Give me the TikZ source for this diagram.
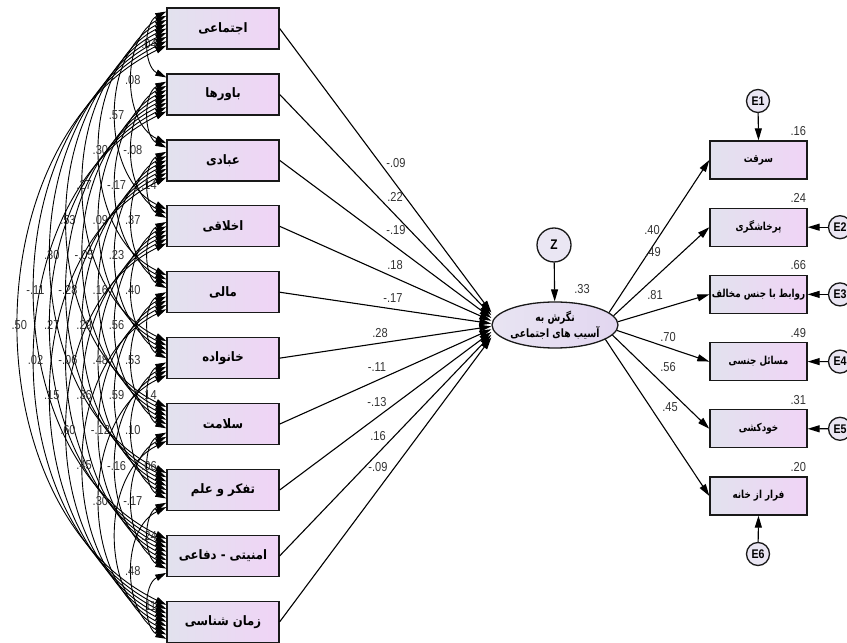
\documentclass[tikz,border=0pt]{standalone}
\usepackage{fontspec}
\usetikzlibrary{arrows.meta,shapes.geometric,calc}
\TeXXeTstate=1
\newfontfamily\arb[Script=Arabic,FakeStretch=0.9]{DejaVu Sans}
\newfontfamily\arbn[Script=Arabic,FakeStretch=0.8]{DejaVu Sans}
\newfontfamily\numf[FakeStretch=0.85]{Liberation Sans}
\definecolor{boxL}{RGB}{226,226,238}
\definecolor{boxR}{RGB}{240,212,246}
\definecolor{ellL}{RGB}{232,228,242}
\definecolor{ellR}{RGB}{226,214,240}
\definecolor{circf}{RGB}{234,230,243}
\newcommand\setcv[3]{\expandafter\def\csname cv#1-#2\endcsname{#3}}
\setcv{1}{2}{.04}\setcv{1}{3}{.08}\setcv{1}{4}{.57}\setcv{1}{5}{.30}\setcv{1}{6}{.27}
\setcv{1}{7}{.53}\setcv{1}{8}{.30}\setcv{1}{9}{-.11}\setcv{1}{10}{.50}
\setcv{2}{4}{-.08}\setcv{2}{5}{-.17}\setcv{2}{6}{.09}\setcv{2}{7}{-.05}\setcv{2}{8}{-.28}
\setcv{2}{9}{.27}\setcv{2}{10}{.02}
\setcv{3}{4}{.14}\setcv{3}{5}{.37}\setcv{3}{6}{.23}\setcv{3}{7}{.16}\setcv{3}{8}{.29}
\setcv{3}{9}{-.06}\setcv{3}{10}{.15}
\setcv{4}{6}{.40}\setcv{4}{7}{.56}\setcv{4}{8}{.48}\setcv{4}{9}{.36}\setcv{4}{10}{.60}
\setcv{5}{7}{.53}\setcv{5}{8}{.59}\setcv{5}{9}{-.12}\setcv{5}{10}{.45}
\setcv{6}{7}{.14}\setcv{6}{8}{.10}\setcv{6}{9}{-.16}\setcv{6}{10}{.30}
\setcv{7}{8}{.06}\setcv{7}{9}{-.17}
\setcv{8}{9}{.24}\setcv{8}{10}{.48}
\setcv{9}{10}{.11}
\begin{document}
\begin{tikzpicture}[x=1pt,y=1pt,
  lbox/.style={draw=black!90, line width=1.3pt, minimum width=112pt, minimum height=41pt,
    left color=boxL, right color=boxR, inner sep=0pt, font=\arb\bfseries\fontsize{13}{15}\selectfont},
  rbox/.style={lbox, minimum width=97pt, minimum height=38pt, font=\arbn\bfseries\fontsize{11}{13}\selectfont},
  lat/.style={ellipse, draw=black!90, line width=1.3pt, minimum width=124pt, minimum height=46pt,
    inner sep=0pt, left color=ellL, right color=ellR, align=center,
    font=\arbn\bfseries\fontsize{11.5}{13}\selectfont},
  err/.style={circle, draw=black!90, line width=1.3pt, fill=circf, inner sep=0pt,
    minimum size=23pt, font=\numf\bfseries\fontsize{12.5}{13}\selectfont},
  num/.style={font=\numf\fontsize{13}{14}\selectfont, inner sep=0.5pt, text=black!80},
  covlab/.style={num},
  pth/.style={line width=1.1pt, -{Triangle[length=12pt,width=7pt]}},
  cov/.style={line width=0.9pt, {Triangle[length=11pt,width=6.5pt]}-{Triangle[length=11pt,width=6.5pt]}}
]
\useasboundingbox (0,0) rectangle (847,643);
\fill[white] (0,0) rectangle (847,643);

% left exogenous boxes
\foreach \i/\t in {1/اجتماعی, 2/باورها, 3/عبادی, 4/اخلاقی, 5/مالی, 6/خانواده,
                   7/سلامت, 8/تفکر و علم, 9/امنیتی - دفاعی, 10/زمان شناسی}{
  \pgfmathsetmacro\yy{614.5-65.93*(\i-1)}
  \node[lbox] (L\i) at (223,\yy) {\beginR\t\endR};
}

% latent variable
\node[lat] (ell) at (555,318) {\beginR نگرش به\endR\\[1pt]\beginR آسیب های اجتماعی\endR};
\node[err, minimum size=34pt, font=\numf\bfseries\fontsize{14}{14}\selectfont] (Z) at (554,398) {Z};
\draw[pth] (Z) -- (ell);
\node[num] (r0) at (582,354) {.33};

% right indicator boxes
\foreach \i/\t in {1/سرقت, 2/پرخاشگری, 3/روابط با جنس مخالف, 4/مسائل جنسی, 5/خودکشی, 6/فرار از خانه}{
  \pgfmathsetmacro\yy{483-67.2*(\i-1)}
  \node[rbox] (R\i) at (758.5,\yy) {\beginR\t\endR};
}
\foreach \i/\v in {1/.16, 2/.24, 3/.66, 4/.49, 5/.31, 6/.20}{
  \node[num, anchor=south east] (rs\i) at ([xshift=-1pt,yshift=4pt]R\i.north east) {\v};
}

% error terms
\node[err] (E1) at (758,542) {E1};
\node[err] (E2) at (840,415.8) {E2};
\node[err] (E3) at (840,348.6) {E3};
\node[err] (E4) at (840,281.4) {E4};
\node[err] (E5) at (840,214.2) {E5};
\node[err] (E6) at (758,89) {E6};
\draw[pth] (E1) -- (R1.north);
\draw[pth] (E2) -- (R2.east);
\draw[pth] (E3) -- (R3.east);
\draw[pth] (E4) -- (R4.east);
\draw[pth] (E5) -- (R5.east);
\draw[pth] (E6) -- (R6.south);

% loadings
\foreach \i/\a in {1/13, 2/9, 3/3, 4/-5, 5/-10, 6/-16}{
  \draw[pth] (ell.\a) -- (R\i.west);
}
\node[num] (lo1) at (652,413) {.40};
\node[num] (lo2) at (653,391) {.49};
\node[num] (lo3) at (655,348) {.81};
\node[num] (lo4) at (668,306) {.70};
\node[num] (lo5) at (668,276) {.56};
\node[num] (lo6) at (670,236) {.45};

% paths from exogenous variables to latent
\foreach \i in {1,...,10}{
  \pgfmathsetmacro\ys{(5.5-\i)*2.8}
  \draw[pth] (L\i.east) -- ([yshift=\ys pt]ell.west);
}
\foreach \i/\x/\y/\v in {1/396/480/-.09, 2/395/446/.22, 3/396/413/-.19, 4/395/378/.18,
   5/393/345/-.17, 6/380/310/.28, 7/377/276/-.11, 8/377/241/-.13, 9/378/207/.16, 10/378/176/-.09}{
  \node[num] (pl\i) at (\x,\y) {\v};
}

% covariances
\foreach \i in {1,...,9}{
  \pgfmathtruncatemacro\ii{\i+1}
  \foreach \j in {\ii,...,10}{
    \pgfmathsetmacro\sa{17-4.25*(\j-2)}
    \pgfmathsetmacro\sb{17-4.25*(\i-1)}
    \draw[cov] ([yshift=\sa pt]L\i.west) to[bend right=64]
      node[covlab] {\csname cv\i-\j\endcsname} ([yshift=\sb pt]L\j.west);
  }
}
\end{tikzpicture}
\end{document}
